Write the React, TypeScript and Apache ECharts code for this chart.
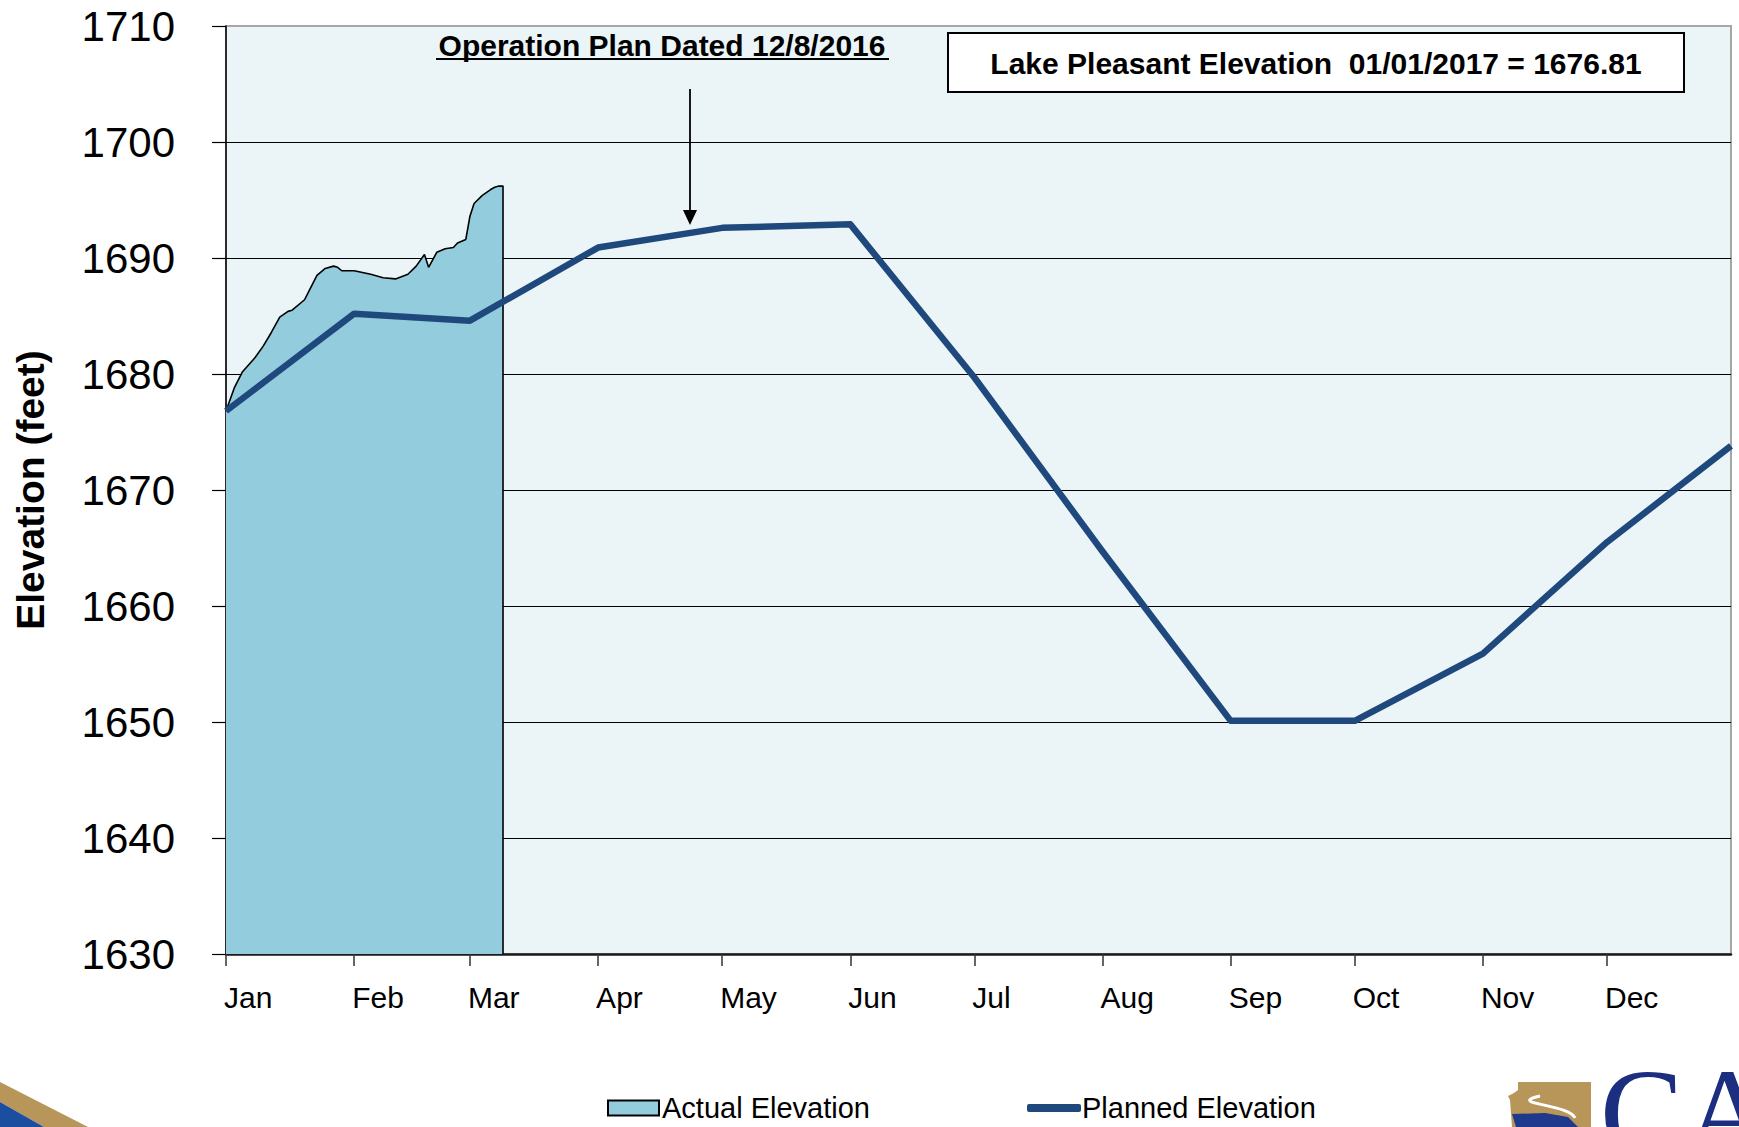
import React, { useEffect, useRef } from "react";
import * as echarts from "echarts";

const MONTHS = ["Jan", "Feb", "Mar", "Apr", "May", "Jun", "Jul", "Aug", "Sep", "Oct", "Nov", "Dec"];
const X_START = "2017-01-01";
const X_END = "2017-12-31";
const Y_MIN = 1630;
const Y_MAX = 1710;
const Y_STEP = 10;

const actualDates = [
  "2017-01-01", "2017-01-03", "2017-01-05", "2017-01-08", "2017-01-10", "2017-01-12",
  "2017-01-14", "2017-01-16", "2017-01-17", "2017-01-20", "2017-01-21", "2017-01-23",
  "2017-01-25", "2017-01-27", "2017-01-28", "2017-01-29", "2017-02-01", "2017-02-05",
  "2017-02-08", "2017-02-11", "2017-02-14", "2017-02-16", "2017-02-18", "2017-02-19",
  "2017-02-21", "2017-02-23", "2017-02-25", "2017-02-26", "2017-02-28", "2017-03-01",
  "2017-03-02", "2017-03-04", "2017-03-06", "2017-03-07", "2017-03-08", "2017-03-09",
];
const actualValues = [
  1676.81, 1678.8, 1680.2, 1681.4, 1682.4, 1683.6,
  1684.9, 1685.4, 1685.5, 1686.4, 1687.1, 1688.5,
  1689.1, 1689.3, 1689.2, 1688.9, 1688.9, 1688.6,
  1688.3, 1688.2, 1688.6, 1689.3, 1690.3, 1689.2,
  1690.5, 1690.8, 1690.9, 1691.3, 1691.6, 1693.6,
  1694.7, 1695.4, 1695.9, 1696.1, 1696.2, 1696.2,
];

const plannedDates = [
  "2017-01-01", "2017-02-01", "2017-03-01", "2017-04-01", "2017-05-01", "2017-06-01",
  "2017-07-01", "2017-08-01", "2017-09-01", "2017-10-01", "2017-11-01", "2017-12-01",
  "2017-12-31",
];
const plannedValues = [
  1676.81, 1685.2, 1684.6, 1690.9, 1692.6, 1692.9,
  1679.7, 1664.7, 1650.1, 1650.1, 1655.9, 1665.5,
  1673.8,
];

const TITLE_NOTE = "Operation Plan Dated 12/8/2016";
const BOX_NOTE = "Lake Pleasant Elevation  01/01/2017 = 1676.81";
const Y_NAME = "Elevation (feet)";
const ACTUAL_NAME = "Actual Elevation";
const PLANNED_NAME = "Planned Elevation";

const FONT = "'Liberation Sans', Arial, Helvetica, sans-serif";

export default function App() {
  const ref = useRef<HTMLDivElement>(null);

  useEffect(() => {
    document.body.style.margin = "0";
    if (!ref.current) return;
    const chart = echarts.init(ref.current, null, { renderer: "svg" });

    const actualData: any[] = actualDates.map((d, i) => [d, actualValues[i]]);
    actualData.push([actualDates[actualDates.length - 1], Y_MIN]);
    const plannedData = plannedDates.map((d, i) => [d, plannedValues[i]]);

    const nLines = (Y_MAX - Y_MIN) / Y_STEP + 1;
    const splitColors = Array.from({ length: nLines }, (_, i) => (i === nLines - 1 ? "#A6A6A6" : "#000000"));

    const option: any = {
      animation: false,
      backgroundColor: "#ffffff",
      textStyle: { fontFamily: FONT },
      grid: {
        left: 226,
        right: 8,
        top: 26,
        bottom: 173,
        show: true,
        backgroundColor: "#EBF4F7",
        borderColor: "#A6A6A6",
        borderWidth: 2,
        containLabel: false,
        outerBoundsMode: "none",
      },
      legend: [
        {
          left: 607,
          top: 1092,
          itemWidth: 51,
          itemHeight: 15,
          itemGap: 10,
          padding: 0,
          textStyle: { fontSize: 29, lineHeight: 32, color: "#000", fontFamily: FONT, padding: [0, 0, 0, -2] },
          data: [
            {
              name: ACTUAL_NAME,
              icon: "rect",
              itemStyle: { color: "#93CDDD", borderColor: "#000", borderWidth: 2 },
            },
          ],
        },
        {
          left: 1027,
          top: 1092,
          itemWidth: 54,
          itemHeight: 8,
          itemGap: 10,
          padding: 0,
          textStyle: { fontSize: 29, lineHeight: 32, color: "#000", fontFamily: FONT, padding: [0, 0, 0, -4] },
          data: [
            {
              name: PLANNED_NAME,
              icon: "roundRect",
              itemStyle: { color: "#1F497D", borderWidth: 0 },
            },
          ],
        },
      ],
      xAxis: {
        type: "time",
        min: X_START,
        max: X_END,
        splitNumber: 12,
        axisLine: { show: true, lineStyle: { color: "#1a1a1a", width: 2.5 } },
        axisTick: { show: true, length: 12, lineStyle: { color: "#333", width: 1.5 } },
        splitLine: { show: false },
        minorTick: { show: false },
        axisLabel: {
          fontSize: 30,
          color: "#000",
          fontFamily: FONT,
          align: "left",
          margin: 28,
          padding: [0, 0, 0, -2],
          formatter: (val: number) => MONTHS[new Date(val).getMonth()],
        },
      },
      yAxis: {
        type: "value",
        min: Y_MIN,
        max: Y_MAX,
        interval: Y_STEP,
        name: Y_NAME,
        nameLocation: "middle",
        nameRotate: 90,
        nameGap: 176,
        nameTextStyle: { fontSize: 39, fontWeight: "bold", color: "#000", fontFamily: FONT },
        axisLine: { show: true, lineStyle: { color: "#000", width: 1.5 } },
        axisTick: { show: true, inside: false, length: 14, lineStyle: { color: "#000", width: 1.2 } },
        splitLine: { show: true, lineStyle: { color: splitColors, width: 1.2 } },
        axisLabel: {
          fontSize: 42,
          color: "#000",
          fontFamily: FONT,
          margin: 51,
          formatter: (v: number) => String(v),
        },
      },
      series: [
        {
          name: ACTUAL_NAME,
          type: "line",
          data: actualData,
          symbol: "none",
          smooth: false,
          itemStyle: { color: "#93CDDD" },
          lineStyle: { color: "#000", width: 1.6 },
          areaStyle: { color: "#93CDDD", opacity: 1, origin: "start" },
          z: 2,
        },
        {
          name: PLANNED_NAME,
          type: "line",
          data: plannedData,
          symbol: "none",
          smooth: false,
          itemStyle: { color: "#1F497D" },
          lineStyle: { color: "#1F497D", width: 6.5, join: "round" },
          z: 3,
        },
      ],
      graphic: [
        {
          type: "text",
          x: 662,
          y: 45,
          style: {
            text: TITLE_NOTE,
            font: `bold 30px ${FONT}`,
            fill: "#000",
            align: "center",
            verticalAlign: "middle",
          },
          z: 10,
        },
        { type: "line", shape: { x1: 436, y1: 59, x2: 889, y2: 59 }, style: { stroke: "#000", lineWidth: 2 }, z: 10 },
        { type: "line", shape: { x1: 690, y1: 89, x2: 690, y2: 212 }, style: { stroke: "#000", lineWidth: 1.8 }, z: 10 },
        {
          type: "polygon",
          shape: { points: [[683, 210], [697, 210], [690, 225]] },
          style: { fill: "#000" },
          z: 10,
        },
        {
          type: "rect",
          shape: { x: 948, y: 33, width: 736, height: 59 },
          style: { fill: "#ffffff", stroke: "#000", lineWidth: 2 },
          z: 10,
        },
        {
          type: "text",
          x: 1316,
          y: 63,
          style: {
            text: BOX_NOTE,
            font: `bold 30px ${FONT}`,
            fill: "#000",
            align: "center",
            verticalAlign: "middle",
          },
          z: 11,
        },
        // bottom-left logo fragment
        {
          type: "polygon",
          shape: { points: [[0, 1082], [0, 1102], [44, 1127], [88, 1127]] },
          style: { fill: "#B8965A" },
          z: 10,
        },
        {
          type: "polygon",
          shape: { points: [[0, 1102], [0, 1127], [44, 1127]] },
          style: { fill: "#1B4E9E" },
          z: 10,
        },
        // bottom-right logo fragment
        {
          type: "polygon",
          shape: {
            points: [[1518, 1082], [1591, 1082], [1591, 1127], [1512, 1127], [1510, 1100], [1508, 1096], [1514, 1093], [1518, 1090]],
          },
          style: { fill: "#B8965A" },
          z: 10,
        },
        {
          type: "polygon",
          shape: { points: [[1512, 1114], [1545, 1113], [1568, 1117], [1578, 1127], [1516, 1127]] },
          style: { fill: "#1F3A8C" },
          z: 11,
        },
        {
          type: "bezierCurve",
          shape: { x1: 1540, y1: 1096, x2: 1575, y2: 1118, cpx1: 1505, cpy1: 1104, cpx2: 1570, cpy2: 1104 },
          style: { stroke: "#ffffff", lineWidth: 3, fill: null },
          z: 12,
        },
        {
          type: "text",
          x: 1600,
          y: 1050,
          style: {
            text: "CA",
            font: `125px 'Liberation Serif', 'Times New Roman', serif`,
            fill: "#1C2E80",
            align: "left",
            verticalAlign: "top",
          },
          z: 10,
        },
      ],
    };

    chart.setOption(option);
    return () => chart.dispose();
  }, []);

  return <div ref={ref} style={{ width: 1739, height: 1127 }} />;
}
